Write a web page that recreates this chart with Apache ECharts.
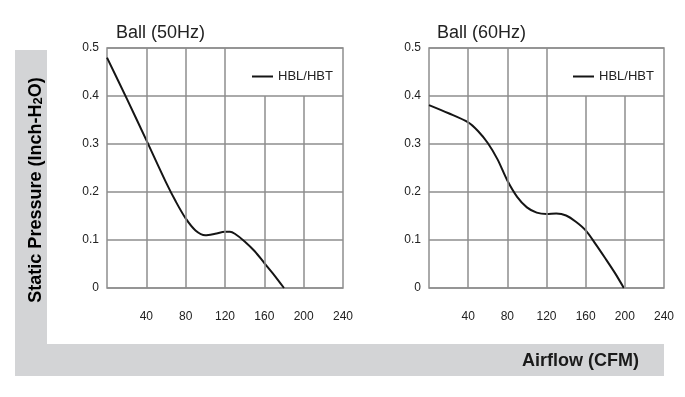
<!DOCTYPE html>
<html><head><meta charset="utf-8">
<script src="https://cdn.jsdelivr.net/npm/echarts@6/dist/echarts.min.js"></script>
<style>html,body{margin:0;padding:0;background:#fff}#c{width:685px;height:397px}</style>
</head><body><div id="c"></div>
<script>
// Data
const titles = ['Ball (50Hz)', 'Ball (60Hz)'];
const seriesName = 'HBL/HBT';
const curve50 = [[0,0.48],[20,0.395],[40,0.308],[60,0.22],[70,0.18],[80,0.145],[90,0.12],[100,0.11],[110,0.113],[120,0.117],[125,0.117],[130,0.113],[140,0.097],[150,0.077],[160,0.052],[170,0.027],[180,0]];
const curve60 = [[0,0.381],[20,0.364],[40,0.345],[50,0.327],[60,0.302],[70,0.268],[80,0.224],[90,0.19],[100,0.168],[110,0.157],[120,0.154],[130,0.155],[140,0.151],[150,0.138],[160,0.12],[170,0.092],[180,0.062],[190,0.031],[199,0]];
const xTicks = [0,40,80,120,160,200,240];
const yTicks = [0,0.1,0.2,0.3,0.4,0.5];
const fullGridX = [40,80,120];
const partialGridX = [160,200];
const partialTop = 0.4;
const yLabel = 'Static Pressure (Inch-H';
const xLabel = 'Airflow (CFM)';

const chart = echarts.init(document.getElementById('c'));
const font = 'Arial, "Liberation Sans", sans-serif';
const gridColor = '#8e8e8e';
const lineColor = '#151515';
const gridsPos = [{left:107, width:236}, {left:429, width:235}];

const vLines = [];
fullGridX.forEach(x => vLines.push([{coord:[x,yTicks[0]]},{coord:[x,yTicks[yTicks.length-1]]}]));
partialGridX.forEach(x => vLines.push([{coord:[x,yTicks[0]]},{coord:[x,partialTop]}]));

const grids = gridsPos.map(g => ({left:g.left, width:g.width, top:48, height:240, show:true, borderColor:gridColor, borderWidth:1.5, backgroundColor:'transparent'}));
const xAxes = [0,1].map(i => ({
  type:'value', gridIndex:i, min:xTicks[0], max:xTicks[xTicks.length-1], interval:40,
  axisLine:{show:false}, axisTick:{show:false}, splitLine:{show:false},
  axisLabel:{margin:23, fontSize:12, color:'#222', fontFamily:font, formatter:v => v === 0 ? '' : String(v)}
}));
const yAxes = [0,1].map(i => ({
  type:'value', gridIndex:i, min:yTicks[0], max:yTicks[yTicks.length-1], interval:0.1,
  axisLine:{show:false}, axisTick:{show:false},
  splitLine:{show:true, lineStyle:{color:gridColor, width:1.5}},
  axisLabel:{margin:8, fontSize:12, color:'#222', fontFamily:font, formatter:v => v === 0 ? '0' : v.toFixed(1)}
}));
const curves = [curve50, curve60];
const series = [];
[0,1].forEach(i => {
  series.push({type:'line', name:'grid'+i, xAxisIndex:i, yAxisIndex:i, data:[], z:1, silent:true,
    markLine:{silent:true, symbol:'none', label:{show:false}, animation:false,
      lineStyle:{color:gridColor, width:1.5, type:'solid'}, data:vLines}});
  series.push({type:'line', name:seriesName, xAxisIndex:i, yAxisIndex:i, data:curves[i], z:3,
    smooth:0.3, symbol:'none', color:lineColor, lineStyle:{color:lineColor, width:2}});
});

chart.setOption({
  animation:false,
  grid:grids, xAxis:xAxes, yAxis:yAxes, series:series,
  title: titles.map((t,i) => ({text:t, left: i===0 ? 111 : 432, top:19, textStyle:{fontSize:18, fontWeight:'normal', color:'#222', fontFamily:font}})),
  legend: [247, 568].map(l => ({data:[seriesName], left:l, top:65, icon:'rect', itemWidth:21, itemHeight:2, itemGap:0,
    textStyle:{fontSize:13, color:'#222', fontFamily:font}, selectedMode:false})),
  graphic:[
    {type:'rect', shape:{x:15, y:50, width:32, height:326}, style:{fill:'#d3d4d6'}, z:0},
    {type:'rect', shape:{x:15, y:344, width:649, height:32}, style:{fill:'#d3d4d6'}, z:0},
    {type:'text', x:639, y:361, z:2, style:{text:xLabel, font:'bold 18px ' + font, fill:'#1a1a1a', textAlign:'right', textVerticalAlign:'middle'}},
    {type:'text', x:33, y:190, rotation:Math.PI/2, z:2, style:{
      text:'{a|' + yLabel + '}{s|2}{a|O)}', textAlign:'center', textVerticalAlign:'middle',
      rich:{a:{fontSize:18, fontWeight:'bold', fontFamily:font, color:'#1a1a1a', lineHeight:24, verticalAlign:'bottom'},
            s:{fontSize:13, fontWeight:'bold', fontFamily:font, color:'#1a1a1a', lineHeight:16, verticalAlign:'bottom'}}}}
  ]
});
</script></body></html>
